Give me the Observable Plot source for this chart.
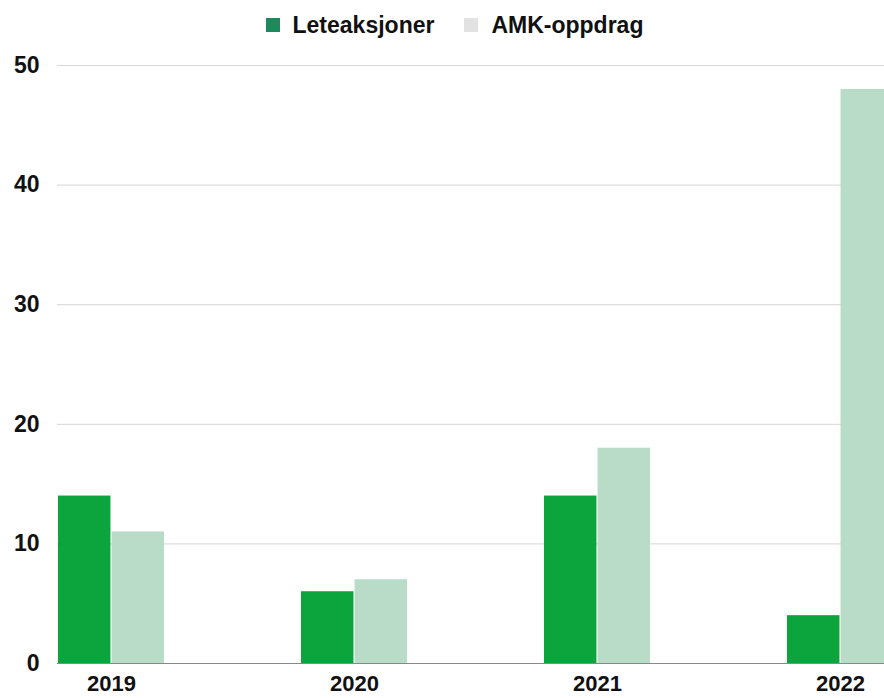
<!DOCTYPE html>
<html>
<head>
<meta charset="utf-8">
<script src="https://cdn.jsdelivr.net/npm/d3@7"></script>
<script src="https://cdn.jsdelivr.net/npm/@observablehq/plot@0.6"></script>
<style>
  html, body { margin: 0; padding: 0; background: #fff; }
  #wrap { width: 884px; height: 698px; overflow: hidden; font-family: "Liberation Sans", Arial, sans-serif; }
  #legend { height: 50px; display: flex; align-items: center; justify-content: center; padding-left: 25px; box-sizing: border-box; font-weight: bold; font-size: 23px; color: #111; }
  #legend .item { display: flex; align-items: center; margin: 0 15px; }
  #legend .sw { width: 14px; height: 14px; margin-right: 13px; }
  #chart { width: 884px; overflow: hidden; }
  #chart svg { max-width: none !important; }
</style>
</head>
<body>
<div id="wrap">
  <div id="legend"></div>
  <div id="chart"></div>
</div>
<script>
const years = ["2019", "2020", "2021", "2022"];
const seriesNames = ["Leteaksjoner", "AMK-oppdrag"];
const leteaksjoner = [14, 6, 14, 4];
const amkOppdrag = [11, 7, 18, 48];
const yTicks = [0, 10, 20, 30, 40, 50];

const barColors = ["#0ba43d", "#b8dcc8"];
const legendColors = ["#1c8a5a", "#e2e2e2"];

// legend
const legend = document.getElementById("legend");
seriesNames.forEach((name, i) => {
  const item = document.createElement("div");
  item.className = "item";
  const sw = document.createElement("span");
  sw.className = "sw";
  sw.style.background = legendColors[i];
  const t = document.createElement("span");
  t.textContent = name;
  item.appendChild(sw);
  item.appendChild(t);
  legend.appendChild(item);
});

const data = [];
years.forEach((y, i) => {
  data.push({year: y, series: seriesNames[0], value: leteaksjoner[i]});
  data.push({year: y, series: seriesNames[1], value: amkOppdrag[i]});
});

const W = 893, ML = 57, MR = 0;
const padInner = 0.564;
const step = (W - ML - MR) / (years.length - padInner);
const band = step * (1 - padInner);
const half = band / 2;

const chart = Plot.plot({
  width: W,
  height: 648,
  marginLeft: ML,
  marginRight: MR,
  marginTop: 15,
  marginBottom: 35,
  style: {fontFamily: "'Liberation Sans', Arial, sans-serif", fontSize: "23px", fontWeight: "bold", color: "#111", background: "transparent", maxWidth: "none"},
  x: {domain: years, paddingInner: padInner, paddingOuter: 0, label: null, tickSize: 0, tickPadding: 13},
  y: {domain: [0, 50], ticks: yTicks, label: null},
  marks: [
    Plot.gridY(yTicks.filter(d => d > 0), {stroke: "#d6d6d6", strokeOpacity: 1, strokeWidth: 1}),
    Plot.barY(data.filter(d => d.series === seriesNames[0]), {x: "year", y: "value", fill: barColors[0], insetRight: half + 0.5}),
    Plot.barY(data.filter(d => d.series === seriesNames[1]), {x: "year", y: "value", fill: barColors[1], insetLeft: half + 0.5}),
    Plot.ruleY([0], {stroke: "#888", strokeWidth: 1}),
    Plot.axisY({ticks: yTicks, tickSize: 0, tickPadding: 18, label: null, fontSize: 23, fontWeight: "bold"}),
    Plot.axisX({tickSize: 0, tickPadding: 12, label: null, fontSize: 22, fontWeight: "bold"})
  ]
});
document.getElementById("chart").appendChild(chart);
</script>
</body>
</html>
